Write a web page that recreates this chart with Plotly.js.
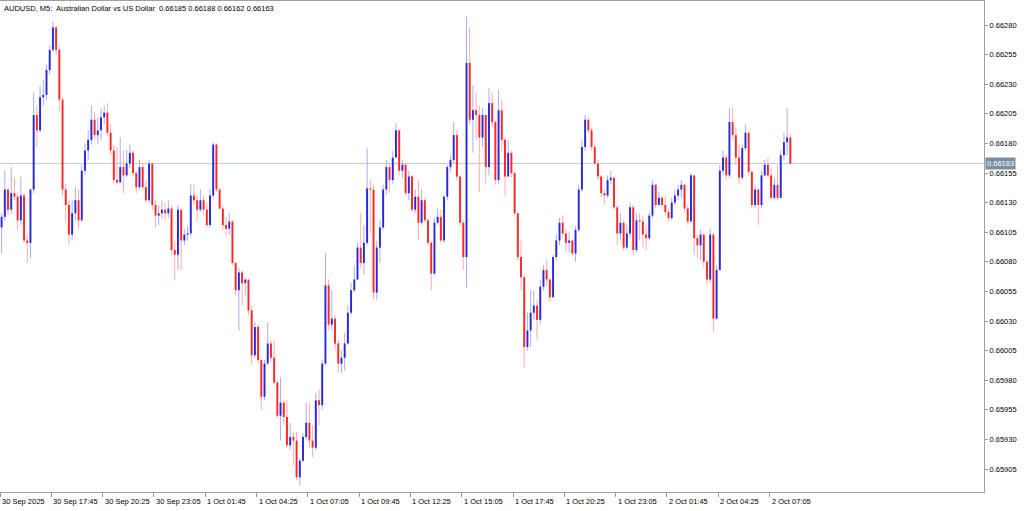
<!DOCTYPE html>
<html><head><meta charset="utf-8">
<script src="https://cdn.plot.ly/plotly-3.0.1.min.js"></script>
<style>html,body{margin:0;padding:0;background:#fff;}#chart{width:1024px;height:511px;}</style>
</head><body><div id="chart"></div>
<script>
const symbolTitle = "AUDUSD, M5:  Australian Dollar vs US Dollar  0.66185 0.66188 0.66162 0.66163";
const firstBar = "2025-09-30T15:10:00Z";
const barMinutes = 10;
const firstOpen = 0.66109;
const close = [
0.66118,0.66141,0.66124,0.66138,0.66135,0.66115,0.66136,0.66098,0.66096,0.66141,
0.66204,0.66191,0.66219,0.66221,0.66242,0.66259,0.66278,0.66259,0.66217,0.66141,
0.66128,0.66103,0.66121,0.66132,0.66115,0.66157,0.66174,0.66183,0.66200,0.66187,
0.66191,0.66202,0.66206,0.66189,0.66174,0.66149,0.66147,0.66160,0.66153,0.66163,
0.66172,0.66155,0.66143,0.66160,0.66143,0.66132,0.66163,0.66128,0.66119,0.66121,
0.66124,0.66121,0.66125,0.66090,0.66086,0.66124,0.66098,0.66103,0.66104,0.66136,
0.66132,0.66124,0.66132,0.66124,0.66111,0.66136,0.66179,0.66141,0.66125,0.66111,
0.66108,0.66114,0.66079,0.66056,0.66071,0.66062,0.66065,0.66039,0.66001,0.66025,
0.65997,0.65966,0.65994,0.66011,0.65999,0.65978,0.65950,0.65961,0.65949,0.65925,
0.65932,0.65929,0.65898,0.65912,0.65932,0.65944,0.65929,0.65923,0.65963,0.65959,
0.65994,0.66060,0.66027,0.66032,0.66011,0.65994,0.65999,0.66011,0.66037,0.66056,
0.66065,0.66092,0.66079,0.66096,0.66142,0.66141,0.66054,0.66092,0.66109,0.66141,
0.66160,0.66149,0.66168,0.66191,0.66157,0.66162,0.66138,0.66152,0.66124,0.66135,
0.66113,0.66132,0.66115,0.66096,0.66070,0.66113,0.66118,0.66098,0.66135,0.66160,
0.66166,0.66187,0.66152,0.66113,0.66084,0.66248,0.66200,0.66208,0.66204,0.66185,
0.66204,0.66160,0.66214,0.66198,0.66149,0.66208,0.66183,0.66152,0.66172,0.66155,
0.66121,0.66084,0.66067,0.66008,0.66022,0.66037,0.66043,0.66031,0.66059,0.66073,
0.66065,0.66050,0.66084,0.66098,0.66113,0.66104,0.66096,0.66098,0.66087,0.66107,
0.66141,0.66177,0.66200,0.66191,0.66177,0.66163,0.66152,0.66138,0.66136,0.66149,
0.66151,0.66126,0.66104,0.66113,0.66092,0.66104,0.66126,0.66090,0.66115,0.66114,
0.66103,0.66100,0.66119,0.66145,0.66128,0.66134,0.66128,0.66122,0.66117,0.66130,
0.66136,0.66141,0.66145,0.66125,0.66114,0.66153,0.66100,0.66094,0.66103,0.66080,
0.66065,0.66103,0.66032,0.66073,0.66157,0.66168,0.66153,0.66198,0.66187,0.66168,
0.66151,0.66176,0.66189,0.66156,0.66128,0.66141,0.66128,0.66153,0.66162,0.66153,
0.66134,0.66145,0.66134,0.66170,0.66181,0.66185,0.66163];
const high = [
0.66121,0.66157,0.66141,0.66160,0.66151,0.66138,0.66152,0.66138,0.66103,0.66142,
0.66223,0.66212,0.66229,0.66234,0.66246,0.66263,0.66283,0.66279,0.66263,0.66219,
0.66146,0.66132,0.66132,0.66143,0.66141,0.66162,0.66180,0.66191,0.66212,0.66206,
0.66202,0.66210,0.66212,0.66214,0.66196,0.66179,0.66177,0.66185,0.66174,0.66174,
0.66179,0.66174,0.66157,0.66166,0.66163,0.66149,0.66166,0.66163,0.66132,0.66128,
0.66132,0.66130,0.66132,0.66128,0.66098,0.66128,0.66124,0.66108,0.66110,0.66146,
0.66145,0.66136,0.66141,0.66136,0.66130,0.66141,0.66181,0.66180,0.66142,0.66128,
0.66118,0.66121,0.66115,0.66080,0.66075,0.66073,0.66066,0.66065,0.66043,0.66029,
0.66027,0.65997,0.65997,0.66029,0.66014,0.66014,0.65980,0.65982,0.65963,0.65963,
0.65944,0.65936,0.65936,0.65914,0.65935,0.65961,0.65961,0.65942,0.65969,0.65972,
0.65997,0.66087,0.66065,0.66056,0.66035,0.66014,0.66005,0.66020,0.66043,0.66062,
0.66077,0.66096,0.66121,0.66111,0.66176,0.66149,0.66145,0.66098,0.66115,0.66145,
0.66166,0.66163,0.66174,0.66197,0.66191,0.66166,0.66163,0.66157,0.66153,0.66141,
0.66149,0.66141,0.66134,0.66117,0.66098,0.66117,0.66125,0.66124,0.66136,0.66162,
0.66170,0.66198,0.66191,0.66153,0.66115,0.66287,0.66278,0.66229,0.66223,0.66212,
0.66210,0.66204,0.66227,0.66223,0.66200,0.66225,0.66217,0.66185,0.66183,0.66174,
0.66156,0.66121,0.66098,0.66069,0.66037,0.66056,0.66056,0.66048,0.66065,0.66077,
0.66081,0.66066,0.66086,0.66103,0.66117,0.66119,0.66108,0.66105,0.66098,0.66110,
0.66145,0.66183,0.66204,0.66202,0.66193,0.66179,0.66166,0.66153,0.66141,0.66153,
0.66157,0.66152,0.66128,0.66121,0.66115,0.66111,0.66130,0.66128,0.66121,0.66121,
0.66119,0.66111,0.66122,0.66149,0.66146,0.66139,0.66136,0.66136,0.66125,0.66134,
0.66141,0.66145,0.66149,0.66146,0.66128,0.66155,0.66153,0.66103,0.66107,0.66104,
0.66081,0.66108,0.66104,0.66077,0.66162,0.66174,0.66170,0.66210,0.66211,0.66193,
0.66179,0.66179,0.66196,0.66190,0.66157,0.66145,0.66142,0.66157,0.66166,0.66168,
0.66159,0.66151,0.66162,0.66174,0.66189,0.66210,0.66188];
const low = [
0.66087,0.66115,0.66119,0.66121,0.66132,0.66107,0.66111,0.66096,0.66079,0.66083,
0.66138,0.66177,0.66189,0.66212,0.66217,0.66238,0.66257,0.66255,0.66208,0.66136,
0.66113,0.66094,0.66098,0.66115,0.66108,0.66114,0.66153,0.66166,0.66179,0.66183,
0.66180,0.66183,0.66196,0.66186,0.66170,0.66146,0.66145,0.66155,0.66138,0.66151,
0.66159,0.66152,0.66138,0.66141,0.66141,0.66130,0.66130,0.66124,0.66109,0.66111,
0.66117,0.66115,0.66117,0.66086,0.66065,0.66073,0.66073,0.66094,0.66098,0.66102,
0.66128,0.66114,0.66122,0.66119,0.66109,0.66109,0.66134,0.66139,0.66124,0.66107,
0.66102,0.66103,0.66077,0.66052,0.66022,0.66043,0.66052,0.66035,0.65993,0.65999,
0.65994,0.65955,0.65963,0.65997,0.65995,0.65976,0.65948,0.65929,0.65942,0.65923,
0.65921,0.65908,0.65896,0.65891,0.65911,0.65929,0.65923,0.65915,0.65921,0.65942,
0.65955,0.65993,0.66022,0.66022,0.66005,0.65987,0.65986,0.65988,0.66010,0.66035,
0.66054,0.66065,0.66075,0.66069,0.66094,0.66104,0.66048,0.66048,0.66079,0.66107,
0.66136,0.66138,0.66146,0.66168,0.66153,0.66151,0.66136,0.66132,0.66122,0.66121,
0.66098,0.66111,0.66114,0.66094,0.66056,0.66069,0.66111,0.66096,0.66096,0.66132,
0.66156,0.66163,0.66149,0.66110,0.66073,0.66058,0.66196,0.66172,0.66183,0.66139,
0.66177,0.66146,0.66153,0.66194,0.66145,0.66146,0.66174,0.66136,0.66152,0.66151,
0.66119,0.66081,0.66056,0.65991,0.66005,0.66008,0.66031,0.66014,0.66027,0.66056,
0.66060,0.66046,0.66054,0.66081,0.66094,0.66101,0.66088,0.66088,0.66085,0.66080,
0.66105,0.66139,0.66174,0.66189,0.66174,0.66162,0.66149,0.66135,0.66128,0.66134,
0.66145,0.66124,0.66094,0.66098,0.66090,0.66090,0.66101,0.66086,0.66088,0.66098,
0.66092,0.66090,0.66098,0.66117,0.66125,0.66128,0.66126,0.66119,0.66114,0.66115,
0.66128,0.66132,0.66134,0.66122,0.66111,0.66114,0.66086,0.66083,0.66081,0.66075,
0.66060,0.66062,0.66021,0.66031,0.66073,0.66153,0.66149,0.66151,0.66183,0.66162,
0.66146,0.66149,0.66174,0.66153,0.66125,0.66125,0.66111,0.66125,0.66152,0.66151,
0.66132,0.66132,0.66132,0.66134,0.66166,0.66170,0.66162];
const lastPrice = 0.66163;
const priceTicks = [0.65905,0.65930,0.65955,0.65980,0.66005,0.66030,0.66055,0.66080,
                    0.66105,0.66130,0.66155,0.66180,0.66205,0.66230,0.66255,0.66280];
const timeTickStart = "2025-09-30T15:05:00Z";
const timeTickMinutes = 160;
const timeTickText = ["30 Sep 2025","30 Sep 17:45","30 Sep 20:25","30 Sep 23:05","1 Oct 01:45",
  "1 Oct 04:25","1 Oct 07:05","1 Oct 09:45","1 Oct 12:25","1 Oct 15:05","1 Oct 17:45",
  "1 Oct 20:25","1 Oct 23:05","2 Oct 01:45","2 Oct 04:25","2 Oct 07:05"];

function fmt(ms){ return new Date(ms).toISOString().slice(0,19).replace('T',' '); }
const t0 = Date.parse(firstBar);
const times = close.map((_, i) => fmt(t0 + i * barMinutes * 60000));
const open = [firstOpen].concat(close.slice(0, -1));
const bodyHi = open.map((o, i) => Math.max(o, close[i]));
const bodyLo = open.map((o, i) => Math.min(o, close[i]));
const isUp = open.map((o, i) => close[i] >= o);
const tt0 = Date.parse(timeTickStart);
const timeTickVals = timeTickText.map((_, i) => fmt(tt0 + i * timeTickMinutes * 60000));

const pxPerMin = 51.3 / 160;
const xStart = fmt(tt0);
const xEnd = fmt(tt0 + (984 / pxPerMin) * 60000);

const BLUE = '#2828dc', RED = '#ff2626', PBLUE = '#acacf0', PRED = '#ffacac';
const FONT = 'Liberation Sans, Arial, sans-serif';
const MIN = 60000;

const wicks = {
  type: 'bar', x: times, base: low, y: high.map((h, i) => h - low[i]),
  width: times.map(() => 3.1 * MIN),
  marker: {color: isUp.map(u => u ? PBLUE : PRED), line: {width: 0}},
  hoverinfo: 'skip', showlegend: false
};
const bodies = {
  type: 'bar', x: times, base: bodyLo, y: bodyHi.map((h, i) => Math.max(h - bodyLo[i], 0.000008)),
  width: times.map(() => 6 * MIN),
  marker: {color: isUp.map(u => u ? BLUE : RED), line: {width: 0}},
  hoverinfo: 'skip', showlegend: false
};

const xLabelAnnotations = timeTickText.map((txt, i) => ({
  xref: 'x', yref: 'paper', x: timeTickVals[i], y: 0, xanchor: 'left', yanchor: 'top',
  xshift: 0, yshift: -3, showarrow: false, text: txt,
  font: {family: FONT, size: 7.5, color: '#000'}
}));

const layout = {
  width: 1024, height: 511,
  margin: {l: 0, r: 40, t: 1, b: 19, pad: 0},
  paper_bgcolor: '#ffffff', plot_bgcolor: '#ffffff',
  showlegend: false, barmode: 'overlay',
  font: {family: FONT, size: 7.5, color: '#000'},
  xaxis: {
    type: 'date', range: [xStart, xEnd],
    tickmode: 'array', tickvals: timeTickVals, showticklabels: false,
    ticks: 'outside', ticklen: 4, tickcolor: '#9a9a9a',
    showgrid: false, zeroline: false, showline: true, mirror: true,
    linecolor: '#a0a0a0', linewidth: 1, fixedrange: true
  },
  yaxis: {
    side: 'right', range: [0.6588557, 0.6630027],
    tickmode: 'array', tickvals: priceTicks, ticktext: priceTicks.map(v => v.toFixed(5)),
    ticks: 'outside', ticklen: 3, tickcolor: '#9a9a9a',
    showgrid: false, zeroline: false, showline: true, mirror: true,
    linecolor: '#a0a0a0', linewidth: 1,
    tickfont: {family: FONT, size: 7.5, color: '#000'}, fixedrange: true
  },
  shapes: [{
    type: 'line', xref: 'paper', x0: 0, x1: 1, yref: 'y', y0: lastPrice, y1: lastPrice,
    line: {color: '#c4ccd4', width: 1}, layer: 'below'
  }],
  annotations: [
    {xref: 'paper', yref: 'paper', x: 0, y: 1, xanchor: 'left', yanchor: 'top',
     xshift: 2, yshift: -1, showarrow: false, text: symbolTitle,
     font: {family: FONT, size: 7.5, color: '#000'}},
    {xref: 'paper', yref: 'y', x: 1, y: lastPrice, xanchor: 'left', yanchor: 'middle',
     xshift: 1, showarrow: false, text: lastPrice.toFixed(5), bgcolor: '#7b8ea5',
     borderpad: 1, font: {family: FONT, size: 7.5, color: '#ffffff'}}
  ].concat(xLabelAnnotations)
};

Plotly.newPlot('chart', [wicks, bodies], layout, {displayModeBar: false, staticPlot: true});
</script>
</body></html>
